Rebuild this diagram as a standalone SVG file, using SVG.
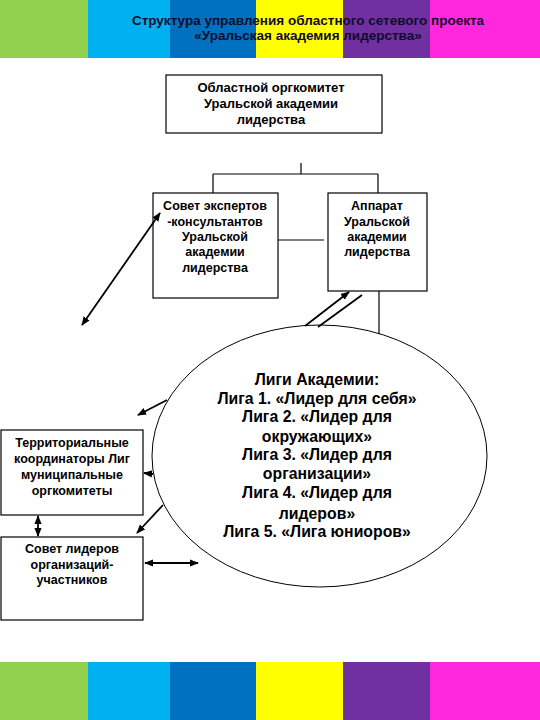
<svg xmlns="http://www.w3.org/2000/svg" width="540" height="720" viewBox="0 0 540 720">
<defs>
<marker id="ah" viewBox="0 0 10 10" refX="9" refY="5" markerWidth="9" markerHeight="9" markerUnits="userSpaceOnUse" orient="auto-start-reverse">
<path d="M0,1 L10,5 L0,9 Z" fill="#000"/>
</marker>
<style>
.box{fill:#fff;stroke:#000;stroke-width:1.2}
.t{font-family:"Liberation Sans",Arial,sans-serif;font-weight:bold;font-size:12.5px;text-anchor:middle;fill:#000}
.tb{font-family:"Liberation Sans",Arial,sans-serif;font-weight:bold;font-size:13px;text-anchor:middle;fill:#000}
.tl{font-family:"Liberation Sans",Arial,sans-serif;font-weight:bold;font-size:15.8px;text-anchor:middle;fill:#000}
.title{font-family:"Liberation Sans",Arial,sans-serif;font-weight:bold;font-size:13.5px;text-anchor:middle;fill:#0d0d2a}
.ln{fill:none;stroke:#000;stroke-width:1.2}
.ar{fill:none;stroke:#000;stroke-width:1.8}
</style>
</defs>
<rect width="540" height="720" fill="#fff"/>
<g id="topbar">
<rect x="0" y="0" width="88" height="58" fill="#92D050"/>
<rect x="88" y="0" width="82" height="58" fill="#00B0F0"/>
<rect x="170" y="0" width="86" height="58" fill="#0070C0"/>
<rect x="256" y="0" width="87" height="58" fill="#FFFF00"/>
<rect x="343" y="0" width="87" height="58" fill="#7030A0"/>
<rect x="430" y="0" width="110" height="58" fill="#FF28DE"/>
</g>
<g id="bottombar">
<rect x="0" y="662" width="88" height="58" fill="#92D050"/>
<rect x="88" y="662" width="82" height="58" fill="#00B0F0"/>
<rect x="170" y="662" width="86" height="58" fill="#0070C0"/>
<rect x="256" y="662" width="87" height="58" fill="#FFFF00"/>
<rect x="343" y="662" width="87" height="58" fill="#7030A0"/>
<rect x="430" y="662" width="110" height="58" fill="#FF28DE"/>
</g>
<g id="title">
<text class="title" x="308" y="25">Структура управления областного сетевого проекта</text>
<text class="title" x="308" y="40">«Уральская академия лидерства»</text>
</g>
<g id="orgcommittee">
<rect class="box" x="166" y="75" width="216" height="58"/>
<text class="tb" x="271" y="92">Областной оргкомитет</text>
<text class="tb" x="271" y="108">Уральской академии</text>
<text class="tb" x="271" y="124">лидерства</text>
</g>
<g id="experts">
<rect class="box" x="153" y="193" width="125" height="105"/>
<text class="t" x="215" y="210">Совет экспертов</text>
<text class="t" x="215" y="226">-консультантов</text>
<text class="t" x="215" y="241">Уральской</text>
<text class="t" x="215" y="256">академии</text>
<text class="t" x="215" y="272">лидерства</text>
</g>
<g id="apparatus">
<rect class="box" x="328" y="193" width="99" height="98"/>
<text class="t" x="377" y="210">Аппарат</text>
<text class="t" x="377" y="226">Уральской</text>
<text class="t" x="377" y="241">академии</text>
<text class="t" x="377" y="256">лидерства</text>
</g>
<g id="leagues">
<ellipse cx="319.5" cy="456" rx="167.5" ry="131" fill="#fff" stroke="#000" stroke-width="1"/>
<text class="tl" x="317" y="385">Лиги Академии:</text>
<text class="tl" x="317" y="404">Лига 1. «Лидер для себя»</text>
<text class="tl" x="317" y="422">Лига 2. «Лидер для</text>
<text class="tl" x="317" y="442">окружающих»</text>
<text class="tl" x="317" y="460">Лига 3. «Лидер для</text>
<text class="tl" x="317" y="479">организации»</text>
<text class="tl" x="317" y="498">Лига 4. «Лидер для</text>
<text class="tl" x="317" y="519">лидеров»</text>
<text class="tl" x="317" y="537">Лига 5. «Лига юниоров»</text>
</g>
<g id="territorial">
<rect class="box" x="1" y="430" width="142" height="85"/>
<text class="t" x="72" y="447">Территориальные</text>
<text class="t" x="72" y="463">координаторы Лиг</text>
<text class="t" x="72" y="479">муниципальные</text>
<text class="t" x="72" y="495">оргкомитеты</text>
</g>
<g id="council">
<rect class="box" x="1" y="537" width="142" height="83"/>
<text class="t" x="72" y="553">Совет лидеров</text>
<text class="t" x="72" y="569">организаций-</text>
<text class="t" x="72" y="584">участников</text>
</g>
<g id="connectors">
<path class="ln" d="M301,163 V174 M213,174 H378 M213,174 V193 M378,174 V193"/>
<path class="ln" d="M278,240 H324"/>
<path class="ln" d="M379,291 V334"/>
<line class="ar" x1="82" y1="325" x2="160" y2="213" marker-start="url(#ah)" marker-end="url(#ah)"/>
<line class="ar" x1="305" y1="326" x2="349" y2="292" marker-end="url(#ah)"/>
<line class="ar" x1="318" y1="327" x2="362" y2="295"/>
<line class="ar" x1="167" y1="400" x2="138" y2="415" marker-end="url(#ah)"/>
<line class="ar" x1="153" y1="474" x2="144" y2="473" marker-end="url(#ah)"/>
<line class="ar" x1="163" y1="505" x2="137" y2="533" marker-end="url(#ah)"/>
<line class="ar" x1="38" y1="516" x2="38" y2="536" marker-start="url(#ah)" marker-end="url(#ah)"/>
<line class="ar" x1="145" y1="563" x2="198" y2="563" marker-start="url(#ah)" marker-end="url(#ah)"/>
</g>
</svg>
